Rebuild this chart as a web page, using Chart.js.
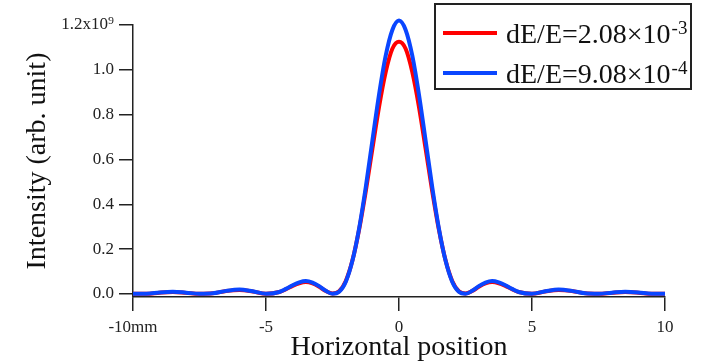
<!DOCTYPE html>
<html>
<head>
<meta charset="utf-8">
<script src="https://cdn.jsdelivr.net/npm/chart.js@4/dist/chart.umd.min.js"></script>
<style>
  html, body { margin: 0; padding: 0; background: #fff; }
  #wrap { width: 701px; height: 364px; }
</style>
</head>
<body>
<div id="wrap"><canvas id="c" width="701" height="364"></canvas></div>
<script>
// Horizontal position (mm)
const positions = [-10,-9.5,-9,-8.5,-8,-7.5,-7,-6.5,-6,-5.5,-5,-4.5,-4.25,-4,-3.75,-3.5,-3.25,-3,-2.75,-2.5,-2.25,-2,-1.75,-1.5,-1.25,-1,-0.75,-0.5,-0.25,0,0.25,0.5,0.75,1,1.25,1.5,1.75,2,2.25,2.5,2.75,3,3.25,3.5,3.75,4,4.25,4.5,5,5.5,6,6.5,7,7.5,8,8.5,9,9.5,10];
// Intensity (x1e9, arb. unit), dE/E = 2.08e-3
const redSeries = [0.001,0.001,0.006,0.009,0.005,0.001,0.003,0.013,0.018,0.011,0.001,0.009,0.021,0.036,0.048,0.053,0.047,0.032,0.013,0.002,0.012,0.058,0.150,0.287,0.458,0.648,0.835,0.990,1.094,1.125,1.094,0.990,0.835,0.648,0.458,0.287,0.150,0.058,0.012,0.002,0.013,0.032,0.047,0.053,0.048,0.036,0.021,0.009,0.001,0.011,0.018,0.013,0.003,0.001,0.005,0.009,0.006,0.001,0.001];
// Intensity (x1e9, arb. unit), dE/E = 9.08e-4
const blueSeries = [0.001,0.001,0.007,0.010,0.006,0.001,0.003,0.014,0.020,0.012,0.001,0.009,0.023,0.039,0.052,0.058,0.051,0.035,0.014,0.001,0.010,0.055,0.149,0.292,0.476,0.685,0.890,1.063,1.178,1.220,1.178,1.063,0.890,0.685,0.476,0.292,0.149,0.055,0.010,0.001,0.014,0.035,0.051,0.058,0.052,0.039,0.023,0.009,0.001,0.012,0.020,0.014,0.003,0.001,0.006,0.010,0.007,0.001,0.001];
const xTicks = [-10,-5,0,5,10];
const yTicks = [0,0.2,0.4,0.6,0.8,1.0,1.2];
const seriesLabels = ['dE/E=2.08\u00d710', 'dE/E=9.08\u00d710'];
const seriesExponents = ['-3', '-4'];
const seriesColors = ['#ff0000', '#0a46ff'];

const SERIF = '"Liberation Serif", "Times New Roman", serif';

const legendPlugin = {
  id: 'customLegend',
  afterDraw(chart) {
    const ctx = chart.ctx;
    ctx.save();
    ctx.fillStyle = '#fff';
    ctx.fillRect(435, 4, 256, 85);
    ctx.strokeStyle = '#222';
    ctx.lineWidth = 2;
    ctx.strokeRect(435, 4, 256, 85);
    const rows = [33, 73];
    for (let i = 0; i < 2; i++) {
      const y = rows[i];
      ctx.strokeStyle = seriesColors[i];
      ctx.lineWidth = 4;
      ctx.beginPath();
      ctx.moveTo(443, y);
      ctx.lineTo(497, y);
      ctx.stroke();
      ctx.fillStyle = '#111';
      ctx.font = '28px ' + SERIF;
      ctx.textBaseline = 'alphabetic';
      ctx.textAlign = 'left';
      ctx.fillText(seriesLabels[i], 506, y + 10);
      const w = ctx.measureText(seriesLabels[i]).width;
      ctx.font = '19px ' + SERIF;
      ctx.fillText(seriesExponents[i], 506 + w + 1, y + 1);
    }
    ctx.restore();
  }
};

const points = (arr) => positions.map((p, i) => ({ x: p, y: arr[i] }));

new Chart(document.getElementById('c'), {
  type: 'line',
  data: {
    datasets: [
      { label: 'blue', data: points(blueSeries), borderColor: seriesColors[1], borderWidth: 4, pointRadius: 0, cubicInterpolationMode: 'monotone', fill: false, clip: false },
      { label: 'red', data: points(redSeries), borderColor: seriesColors[0], borderWidth: 4, pointRadius: 0, cubicInterpolationMode: 'monotone', fill: false, clip: false }
    ]
  },
  options: {
    responsive: false,
    animation: false,
    devicePixelRatio: 1,
    layout: { padding: { top: 25, right: 36, left: 0, bottom: 0 } },
    plugins: { legend: { display: false }, tooltip: { enabled: false } },
    scales: {
      x: {
        type: 'linear',
        min: -10, max: 10,
        afterBuildTicks(s) { s.ticks = xTicks.map(v => ({ value: v })); },
        afterFit(s) { s.height = 67; },
        ticks: {
          color: '#222', padding: 6,
          font: { family: SERIF, size: 17 },
          maxRotation: 0,
          callback: (v) => v === -10 ? '-10mm' : String(v)
        },
        grid: { drawOnChartArea: false, drawTicks: true, tickLength: 14, color: '#222', lineWidth: 1.5 },
        border: { display: true, color: '#222', width: 1.5 },
        title: { display: true, text: 'Horizontal position', color: '#111', font: { family: SERIF, size: 28 }, padding: { top: 0, bottom: 0 } }
      },
      y: {
        type: 'linear',
        min: -0.0134, max: 1.2,
        afterBuildTicks(s) { s.ticks = yTicks.map(v => ({ value: v })); },
        afterFit(s) { s.width = 133; },
        ticks: {
          color: '#222', padding: 5,
          font: { family: SERIF, size: 17 },
          callback: (v) => Math.abs(v - 1.2) < 1e-9 ? '1.2x10\u2079' : v.toFixed(1)
        },
        grid: { drawOnChartArea: false, drawTicks: true, tickLength: 14, color: '#222', lineWidth: 1.5 },
        border: { display: true, color: '#222', width: 1.5 },
        title: { display: true, text: 'Intensity (arb. unit)', color: '#111', font: { family: SERIF, size: 28 }, padding: { top: 21, bottom: 0 } }
      }
    }
  },
  plugins: [legendPlugin]
});
</script>
</body>
</html>
